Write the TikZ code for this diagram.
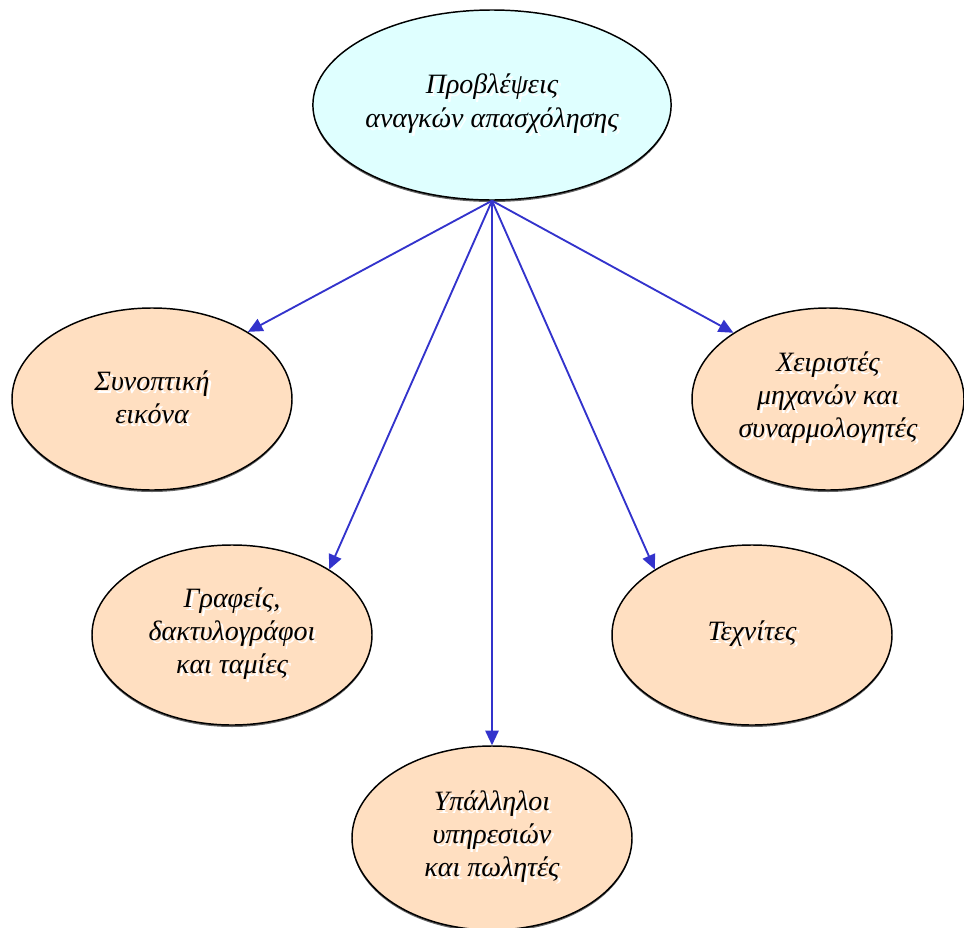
\documentclass[tikz,border=0pt]{standalone}
\usepackage{fontspec}
\setmainfont{Liberation Serif}
\usetikzlibrary{shapes.geometric,arrows.meta,shadows}
\definecolor{peach}{HTML}{FFDFC1}
\definecolor{lcyan}{HTML}{DFFFFF}
\definecolor{arrblue}{HTML}{3333CC}
\newcommand\shd[1]{\leavevmode\rlap{\kern2.2pt\raisebox{-2.2pt}{\color{white}#1}}#1}
\begin{document}
\begin{tikzpicture}[x=0.75pt,y=-0.75pt,
  bub/.style={ellipse, draw=black, line width=1.1pt, inner sep=0pt, fill=peach,
    font=\itshape\fontsize{21}{24.5}\selectfont, align=center,
    drop shadow={shadow xshift=0pt, shadow yshift=-1.5pt, opacity=0.6, fill=black}},
  arr/.style={draw=arrblue, line width=1.4pt, -{Triangle[length=11pt,width=10pt]}}]
\useasboundingbox (0,0) rectangle (964,928);
\node[bub, fill=lcyan, minimum width=262.5pt, minimum height=142.5pt] (top) at (492,105)
  {\shd{Προβλέψεις}\\[1pt]\shd{αναγκών απασχόλησης}};
\node[bub, minimum width=210pt, minimum height=136.5pt] (sy) at (152,399)
  {\shd{Συνοπτική}\\\shd{εικόνα}};
\node[bub, minimum width=204pt, minimum height=136.5pt] (xe) at (828,399)
  {\shd{Χειριστές}\\\shd{μηχανών και}\\\shd{συναρμολογητές}};
\node[bub, minimum width=210pt, minimum height=135pt] (gr) at (232,635)
  {\shd{Γραφείς,}\\\shd{δακτυλογράφοι}\\\shd{και ταμίες}};
\node[bub, minimum width=210pt, minimum height=135pt] (te) at (752,635)
  {\shd{Τεχνίτες}};
\node[bub, minimum width=210pt, minimum height=138pt] (yp) at (492,838)
  {\shd{Υπάλληλοι}\\\shd{υπηρεσιών}\\\shd{και πωλητές}};
\coordinate (src) at (top.south);
\draw[arr] (src) -- (sy.35);
\draw[arr] (src) -- (gr.34);
\draw[arr] (src) -- (yp.north);
\draw[arr] (src) -- (te.146);
\draw[arr] (src) -- (xe.145);
\end{tikzpicture}
\end{document}
